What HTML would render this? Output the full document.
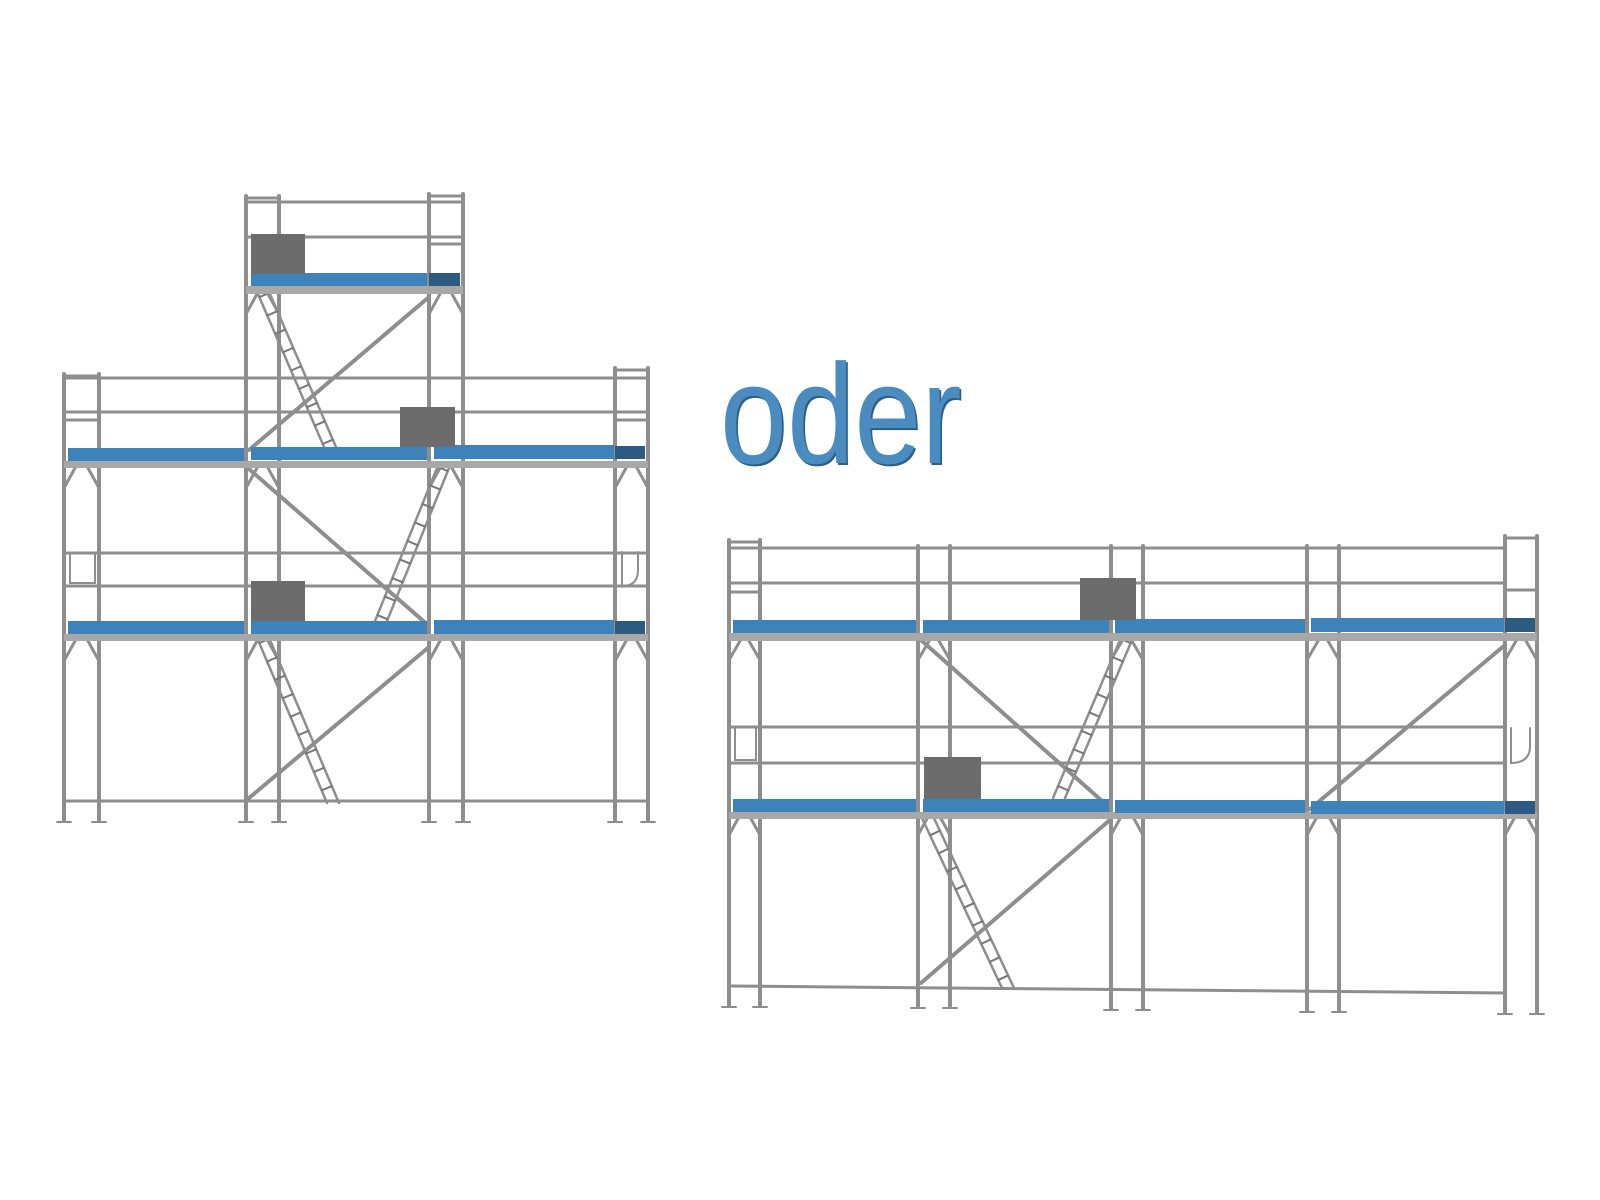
<!DOCTYPE html>
<html><head><meta charset="utf-8"><style>
html,body{margin:0;padding:0;background:#fff;width:1600px;height:1200px;overflow:hidden}
svg{position:absolute;left:0;top:0}
.t{position:absolute;left:720px;top:344px;font-family:"Liberation Sans",sans-serif;font-size:142px;color:#4a8cc0;transform:scaleX(0.85);transform-origin:0 0;line-height:1;text-shadow:2px 2px 0 #2e5f86;white-space:nowrap}
</style></head><body>
<svg width="1600" height="1200" xmlns="http://www.w3.org/2000/svg">
<g stroke="#8e8e8e" stroke-width="4" fill="none" stroke-linecap="round">
<!-- LEFT posts -->
<path d="M64 374V820M99 374V820M246 196V820M279 196V820M429 194V820M463 194V820M615 368V820M648 368V820"/>
<path stroke-width="2" d="M57 822H71M92 822H106M239 822H253M272 822H286M422 822H436M456 822H470M608 822H622M641 822H655"/>
<path stroke-width="3" d="M246 198H279M429 196H463M246 202H463M246 237H463M429 244H463"/>
<path stroke-width="3" d="M64 376H99M64 420H99M615 370H648M615 420H648M64 378H648M64 412H648M64 553H648M64 586H648M64 801H648"/>
<path d="M249 450L429 297M249 469L429 626M249 798L429 647"/>
<path stroke-width="3" d="M64 488L75 468M99 488L88 468M246 488L257 468M279 488L268 468M429 488L440 468M463 488L452 468M615 488L626 468M648 488L637 468
M64 661L75 641M99 661L88 641M246 661L257 641M279 661L268 641M429 661L440 641M463 661L452 641M615 661L626 641M648 661L637 641
M246 314L257 294M279 314L268 294M429 314L440 294M463 314L452 294"/>
<path stroke-width="2" d="M70 554V583H95V554M622 552V586Q638 586 638 570V552"/>
<path stroke-width="2.5" d="M258 294L324 447M270 294L336 447M437 468L375 621M449 468L387 621M258 640L327 803M270 640L339 803"/>
<path stroke-width="12" stroke-dasharray="2 18" stroke-linecap="butt" stroke="#777" d="M264 294L330 447M443 468L381 621M264 640L333 803"/>

<!-- RIGHT posts -->
<path d="M729 540V1005M760 540V1005M918 546V1006M950 546V1006M1111 546V1008M1143 546V1008M1307 546V1010M1339 546V1010M1505 536V1012M1537 536V1012"/>
<path stroke-width="2" d="M722 1007H736M753 1007H767M911 1008H925M943 1008H957M1104 1010H1118M1136 1010H1150M1300 1012H1314M1332 1012H1346M1498 1014H1512M1530 1014H1544"/>
<path stroke-width="3" d="M729 542H760M729 592H760M1505 538H1537M1505 590H1537M729 548H1505M729 583H1505M729 727H1505M729 763H1505M729 986L1505 993"/>
<path d="M921 640L1111 809M921 983L1111 819M1310 809L1505 645"/>
<path stroke-width="3" d="M729 660L740 641M760 660L749 641M918 660L929 641M950 660L939 641M1111 660L1122 641M1143 660L1132 641M1307 660L1318 641M1339 660L1328 641M1505 660L1516 641M1537 660L1526 641
M729 835L740 815M760 835L749 815M918 835L929 815M950 835L939 815M1111 835L1122 815M1143 835L1132 815M1307 835L1318 815M1339 835L1328 815M1505 835L1516 815M1537 835L1526 815"/>
<path stroke-width="2" d="M735 728V760H756V728M1511 728V763Q1530 763 1530 746V728"/>
<path stroke-width="2.5" d="M1120 640L1053 798M1132 640L1065 798M920 814L1002 988M932 814L1014 988"/>
<path stroke-width="12" stroke-dasharray="2 18" stroke-linecap="butt" stroke="#777" d="M1126 640L1059 798M926 814L1008 988"/>
</g>
<g fill="#a8a8a8">
<rect x="64" y="461" width="584" height="7"/><rect x="64" y="634" width="584" height="7"/><rect x="246" y="286" width="217" height="8"/>
<rect x="729" y="633" width="808" height="8"/><rect x="729" y="812" width="808" height="7"/>
</g>
<g fill="#3d82bb">
<rect x="68" y="448" width="176" height="13"/><rect x="251" y="447" width="176" height="13"/><rect x="434" y="445" width="180" height="14"/>
<rect x="68" y="621" width="176" height="13"/><rect x="251" y="621" width="176" height="13"/><rect x="434" y="620" width="180" height="14"/>
<rect x="251" y="273" width="176" height="13"/>
<rect x="733" y="620" width="183" height="13"/><rect x="923" y="620" width="186" height="13"/><rect x="1115" y="619" width="190" height="14"/><rect x="1311" y="618" width="193" height="14"/>
<rect x="733" y="799" width="183" height="13"/><rect x="923" y="799" width="186" height="13"/><rect x="1115" y="800" width="190" height="13"/><rect x="1311" y="801" width="193" height="13"/>
</g>
<g fill="#2d5a80">
<rect x="429" y="273" width="31" height="13"/><rect x="615" y="446" width="30" height="13"/><rect x="615" y="621" width="30" height="13"/>
<rect x="1505" y="618" width="30" height="14"/><rect x="1505" y="801" width="30" height="13"/>
</g>
<g fill="#6c6c6c">
<rect x="251" y="234" width="54" height="40"/><rect x="400" y="407" width="55" height="40"/><rect x="251" y="581" width="54" height="40"/>
<rect x="1080" y="578" width="56" height="42"/><rect x="924" y="757" width="57" height="42"/>
</g>
</svg>
<div class="t">oder</div>
</body></html>
